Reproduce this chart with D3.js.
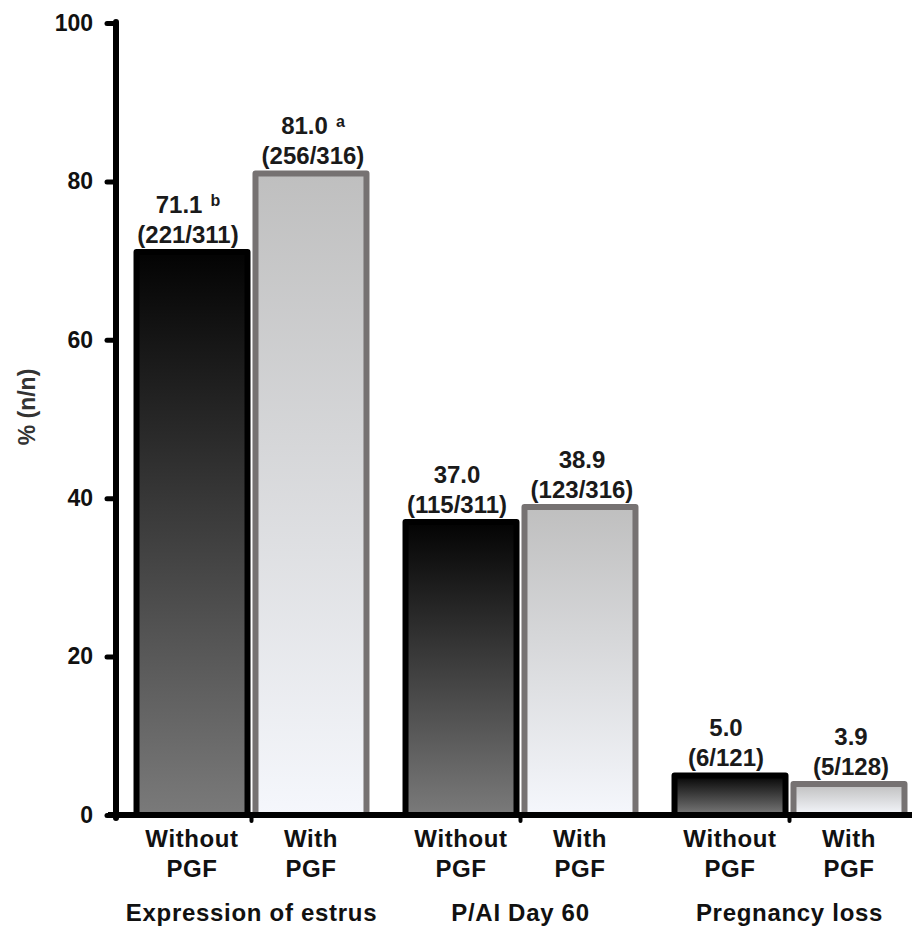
<!DOCTYPE html>
<html>
<head>
<meta charset="utf-8">
<script src="https://cdn.jsdelivr.net/npm/d3@7"></script>
<style>
  html, body { margin: 0; padding: 0; background: #fff; }
  svg { display: block; }
</style>
</head>
<body>
<svg id="chart" width="912" height="932"></svg>
<script>
const groups = ["Expression of estrus", "P/AI Day 60", "Pregnancy loss"];
const series = ["Without PGF", "With PGF"];
const seriesLine1 = ["Without", "With"];
const seriesLine2 = ["PGF", "PGF"];
const withoutValues = [71.1, 37.0, 5.0];
const withValues = [81.0, 38.9, 3.9];
const withoutCounts = ["(221/311)", "(115/311)", "(6/121)"];
const withCounts = ["(256/316)", "(123/316)", "(5/128)"];
const withoutLetters = ["b", "", ""];
const withLetters = ["a", "", ""];
const yTicks = [0, 20, 40, 60, 80, 100];
const yTitle = "% (n/n)";

const FONT = "'Liberation Sans', Arial, sans-serif";
const svg = d3.select("#chart");

const y = d3.scaleLinear().domain([0, 100]).range([815, 23]);
const x0 = d3.scaleBand().domain(groups).range([117, 924]).padding(0);
const x1 = d3.scaleBand().domain(series).range([0, x0.bandwidth()])
  .paddingInner(0.067).paddingOuter(0.164);

const rows = [];
groups.forEach((g, i) => {
  rows.push({group: g, s: series[0], v: withoutValues[i], n: withoutCounts[i], l: withoutLetters[i]});
  rows.push({group: g, s: series[1], v: withValues[i], n: withCounts[i], l: withLetters[i]});
});

// gradients
const defs = svg.append("defs");
const g1 = defs.append("linearGradient").attr("id", "gWithout")
  .attr("x1", 0).attr("y1", 0).attr("x2", 0).attr("y2", 1);
g1.append("stop").attr("offset", "0%").attr("stop-color", "#030303");
g1.append("stop").attr("offset", "100%").attr("stop-color", "#7a7a7a");
const g2 = defs.append("linearGradient").attr("id", "gWith")
  .attr("x1", 0).attr("y1", 0).attr("x2", 0).attr("y2", 1);
g2.append("stop").attr("offset", "0%").attr("stop-color", "#bfbfbf");
g2.append("stop").attr("offset", "100%").attr("stop-color", "#f5f7fc");

// bars
svg.append("g").selectAll("rect").data(rows).join("rect")
  .attr("x", d => x0(d.group) + x1(d.s))
  .attr("y", d => y(d.v))
  .attr("width", x1.bandwidth())
  .attr("height", d => y(0) - y(d.v))
  .attr("fill", d => d.s === series[0] ? "url(#gWithout)" : "url(#gWith)")
  .attr("stroke", d => d.s === series[0] ? "#000" : "#767272")
  .attr("stroke-width", 6)
  .attr("stroke-linejoin", "round");

// value labels
const lab = svg.append("g").attr("font-family", FONT).attr("font-weight", "bold")
  .attr("font-size", 24).attr("fill", "#1a1a1a").attr("text-anchor", "middle");
rows.forEach(d => {
  const cx = x0(d.group) + x1(d.s) + x1.bandwidth() / 2 + (d.s === series[0] ? -4 : 2);
  const t1 = lab.append("text").attr("x", cx).attr("y", y(d.v) - 39);
  t1.append("tspan").text(d.v.toFixed(1));
  if (d.l) {
    t1.append("tspan").attr("font-size", 16).attr("dx", 8).attr("dy", -7).text(d.l);
  }
  lab.append("text").attr("x", cx).attr("y", y(d.v) - 9).text(d.n);
});

// y axis
const yAxis = svg.append("g").attr("transform", "translate(116,0)")
  .call(d3.axisLeft(y).tickValues(yTicks).tickSize(9).tickPadding(14).tickSizeOuter(0));
yAxis.select(".domain").attr("stroke", "#000").attr("stroke-width", 6)
  .attr("d", `M0,${y(100) - 1}V${y(0) + 3}`).attr("stroke-linecap", "round");
yAxis.selectAll(".tick line").attr("stroke", "#000").attr("stroke-width", 5).attr("stroke-linecap", "round");
yAxis.selectAll(".tick text").attr("font-family", FONT).attr("font-weight", "bold")
  .attr("font-size", 23).attr("fill", "#111");

// x axis
const xAxis = svg.append("g").attr("transform", `translate(0,${y(0)})`)
  .call(d3.axisBottom(x0).tickSize(6).tickSizeOuter(0).tickFormat(""));
xAxis.select(".domain").attr("stroke", "#000").attr("stroke-width", 6)
  .attr("d", "M108,0H912");
xAxis.selectAll(".tick line").attr("stroke", "#000").attr("stroke-width", 4).attr("stroke-linecap", "round");

// category labels
const cl = svg.append("g").attr("font-family", FONT).attr("font-weight", "bold")
  .attr("fill", "#111").attr("text-anchor", "middle");
rows.forEach(d => {
  const cx = x0(d.group) + x1(d.s) + x1.bandwidth() / 2;
  const i = series.indexOf(d.s);
  cl.append("text").attr("x", cx).attr("y", 847).attr("font-size", 24)
    .attr("letter-spacing", 0.6).text(seriesLine1[i]);
  cl.append("text").attr("x", cx).attr("y", 877).attr("font-size", 24)
    .attr("letter-spacing", 0.6).text(seriesLine2[i]);
});
groups.forEach(g => {
  cl.append("text").attr("x", x0(g) + x0.bandwidth() / 2).attr("y", 921)
    .attr("font-size", 24).attr("letter-spacing", 0.7).text(g);
});

// y title
svg.append("text").attr("transform", "translate(35,407) rotate(-90)")
  .attr("text-anchor", "middle").attr("font-family", FONT).attr("font-weight", "bold")
  .attr("font-size", 23).attr("fill", "#333").text(yTitle);
</script>
</body>
</html>
